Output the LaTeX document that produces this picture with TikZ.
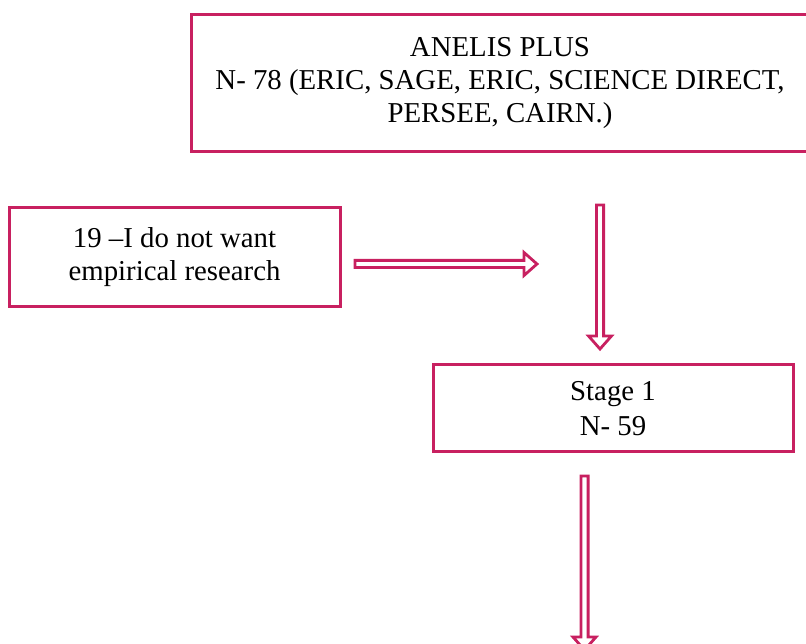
\documentclass[tikz,border=0pt]{standalone}
\usepackage{fontspec}
\setmainfont{Liberation Serif}

\definecolor{crimson}{RGB}{200,32,96}

% hollow block arrow: start, angle, length
\newcommand{\flowarrow}[3]{%
    \draw[arrowline, shift={(#1)}, rotate=#2]
        (0,-\shaftw) -- (#3-\headlen,-\shaftw) -- (#3-\headlen,-\headw) -- (#3,0)
        -- (#3-\headlen,\headw) -- (#3-\headlen,\shaftw) -- (0,\shaftw) -- cycle;}

\begin{document}
\begin{tikzpicture}[x=1pt, y=1pt,
    box/.style={draw=crimson, line width=3pt, align=center, inner sep=0pt,
        font=\fontsize{28.8}{33}\selectfont},
    arrowline/.style={draw=crimson, line width=2.8pt, fill=white, line join=miter}]

    % Define size of the arrows
    \def\headlen{13}
    \def\headw{11.5}
    \def\shaftw{3.6}

    % Size of the page
    \useasboundingbox (0,0) rectangle (806,644);
    \clip (0,0) rectangle (806,644);

    % Draw the boxes
    \node[box, minimum width=618pt, minimum height=137pt] (anelis) at (500,560.5)
        {ANELIS PLUS\\ N- 78 (ERIC, SAGE, ERIC, SCIENCE DIRECT,\\ PERSEE, CAIRN.)};
    \node[box, minimum width=331pt, minimum height=99pt] (excluded) at (174.5,387)
        {19 –I do not want\\ empirical research};
    \node[box, minimum width=360pt, minimum height=87pt] (stage) at (613,235.5)
        {Stage 1\\[2pt] N- 59};

    % Start points of the arrows
    \coordinate (down1) at (600,439);
    \coordinate (side) at (355,380);
    \coordinate (down2) at (584.5,168);

    % Draw the arrows
    \flowarrow{down1}{-90}{144}
    \flowarrow{side}{0}{182}
    \flowarrow{down2}{-90}{174}

\end{tikzpicture}
\end{document}
